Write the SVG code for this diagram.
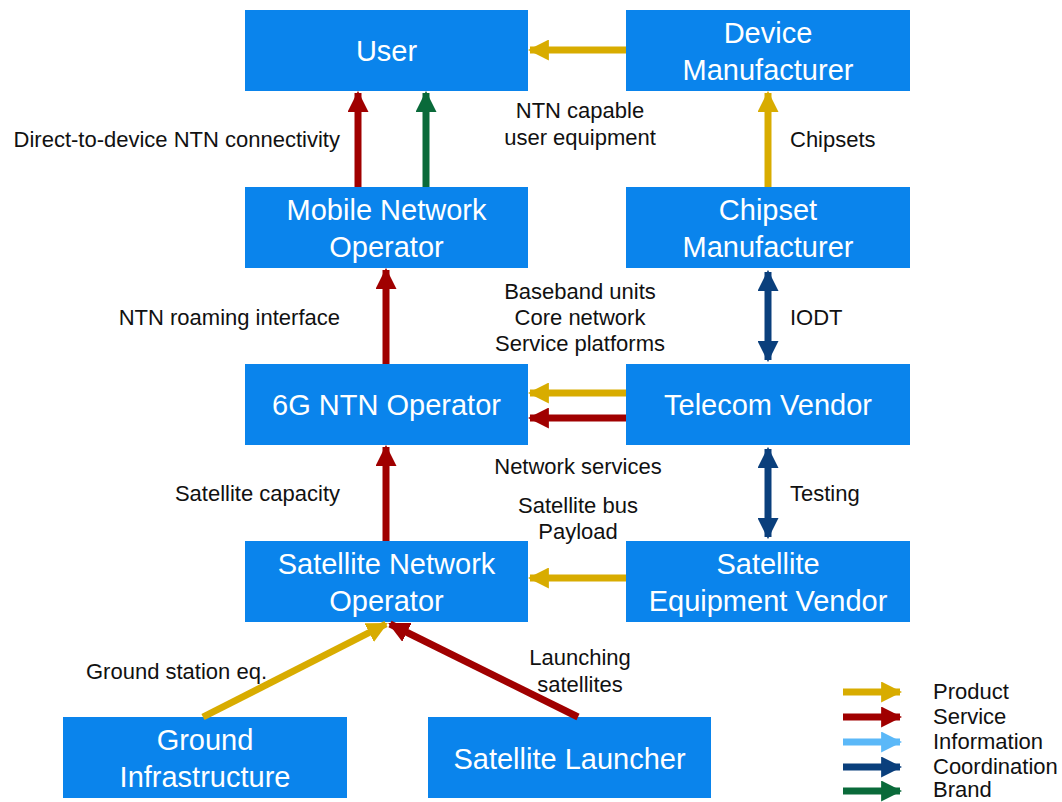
<svg xmlns="http://www.w3.org/2000/svg" width="1062" height="802" viewBox="0 0 1062 802">
<style>
.box{fill:#0A84EC}
.bt{font-family:"Liberation Sans",Arial,sans-serif;font-size:29px;fill:#fff;text-anchor:middle}
.lb{font-family:"Liberation Sans",Arial,sans-serif;font-size:22px;fill:#111}
.c{text-anchor:middle}
.e{text-anchor:end}
.p{stroke:#D8AC00;stroke-width:7;fill:none}
.s{stroke:#A00000;stroke-width:7;fill:none}
.i{stroke:#5BB8F8;stroke-width:7;fill:none}
.k{stroke:#0A3F7C;stroke-width:7;fill:none}
.b{stroke:#0A6A3A;stroke-width:7;fill:none}
</style>
<defs>
<marker id="mp" viewBox="0 0 10 10" refX="9" refY="5" markerWidth="3" markerHeight="3" orient="auto-start-reverse" markerUnits="strokeWidth"><path d="M0,0 L10,5 L0,10 z" fill="#D8AC00"/></marker>
<marker id="ms" viewBox="0 0 10 10" refX="9" refY="5" markerWidth="3" markerHeight="3" orient="auto-start-reverse" markerUnits="strokeWidth"><path d="M0,0 L10,5 L0,10 z" fill="#A00000"/></marker>
<marker id="mi" viewBox="0 0 10 10" refX="9" refY="5" markerWidth="3" markerHeight="3" orient="auto-start-reverse" markerUnits="strokeWidth"><path d="M0,0 L10,5 L0,10 z" fill="#5BB8F8"/></marker>
<marker id="mk" viewBox="0 0 10 10" refX="9" refY="5" markerWidth="3" markerHeight="3" orient="auto-start-reverse" markerUnits="strokeWidth"><path d="M0,0 L10,5 L0,10 z" fill="#0A3F7C"/></marker>
<marker id="mb" viewBox="0 0 10 10" refX="9" refY="5" markerWidth="3" markerHeight="3" orient="auto-start-reverse" markerUnits="strokeWidth"><path d="M0,0 L10,5 L0,10 z" fill="#0A6A3A"/></marker>
</defs>
<rect width="1062" height="802" fill="#fff"/>

<g id="user"><rect class="box" x="245" y="10" width="283" height="81"/><text class="bt" x="386.5" y="61">User</text></g>
<g id="device-manufacturer"><rect class="box" x="626" y="10" width="284" height="81"/><text class="bt" x="768" y="43">Device</text><text class="bt" x="768" y="80">Manufacturer</text></g>
<g id="mno"><rect class="box" x="245" y="187" width="283" height="81"/><text class="bt" x="386.5" y="220">Mobile Network</text><text class="bt" x="386.5" y="257">Operator</text></g>
<g id="chipset-manufacturer"><rect class="box" x="626" y="187" width="284" height="81"/><text class="bt" x="768" y="220">Chipset</text><text class="bt" x="768" y="257">Manufacturer</text></g>
<g id="ntn-operator"><rect class="box" x="245" y="364" width="283" height="81"/><text class="bt" x="386.5" y="415">6G NTN Operator</text></g>
<g id="telecom-vendor"><rect class="box" x="626" y="364" width="284" height="81"/><text class="bt" x="768" y="415">Telecom Vendor</text></g>
<g id="sno"><rect class="box" x="245" y="541" width="283" height="81"/><text class="bt" x="386.5" y="574">Satellite Network</text><text class="bt" x="386.5" y="611">Operator</text></g>
<g id="sev"><rect class="box" x="626" y="541" width="284" height="81"/><text class="bt" x="768" y="574">Satellite</text><text class="bt" x="768" y="611">Equipment Vendor</text></g>
<g id="ground-infrastructure"><rect class="box" x="63" y="717" width="284" height="81"/><text class="bt" x="205" y="750">Ground</text><text class="bt" x="205" y="787">Infrastructure</text></g>
<g id="satellite-launcher"><rect class="box" x="428" y="717" width="283" height="81"/><text class="bt" x="569.5" y="769">Satellite Launcher</text></g>

<g id="connectors">
<line class="s" x1="358" y1="187" x2="358" y2="93" marker-end="url(#ms)"/>
<line class="b" x1="426" y1="187" x2="426" y2="93" marker-end="url(#mb)"/>
<line class="p" x1="626" y1="50" x2="530" y2="50" marker-end="url(#mp)"/>
<line class="p" x1="768" y1="187" x2="768" y2="93" marker-end="url(#mp)"/>
<line class="s" x1="386" y1="364" x2="386" y2="270" marker-end="url(#ms)"/>
<line class="k" x1="768" y1="272" x2="768" y2="360" marker-start="url(#mk)" marker-end="url(#mk)"/>
<line class="p" x1="626" y1="393" x2="530" y2="393" marker-end="url(#mp)"/>
<line class="s" x1="626" y1="418" x2="530" y2="418" marker-end="url(#ms)"/>
<line class="k" x1="768" y1="449" x2="768" y2="537" marker-start="url(#mk)" marker-end="url(#mk)"/>
<line class="s" x1="386" y1="541" x2="386" y2="447" marker-end="url(#ms)"/>
<line class="p" x1="626" y1="578" x2="530" y2="578" marker-end="url(#mp)"/>
<line class="p" x1="203" y1="717" x2="386" y2="624" marker-end="url(#mp)"/>
<line class="s" x1="578" y1="717" x2="390" y2="624" marker-end="url(#ms)"/>
</g>

<g id="labels">
<text class="lb e" x="340" y="147">Direct-to-device NTN connectivity</text>
<text class="lb c" x="580" y="118">NTN capable</text>
<text class="lb c" x="580" y="145">user equipment</text>
<text class="lb" x="790" y="147">Chipsets</text>
<text class="lb e" x="340" y="325">NTN roaming interface</text>
<text class="lb c" x="580" y="299">Baseband units</text>
<text class="lb c" x="580" y="325">Core network</text>
<text class="lb c" x="580" y="351">Service platforms</text>
<text class="lb" x="790" y="325">IODT</text>
<text class="lb c" x="578" y="474">Network services</text>
<text class="lb e" x="340" y="501">Satellite capacity</text>
<text class="lb c" x="578" y="513">Satellite bus</text>
<text class="lb c" x="578" y="539">Payload</text>
<text class="lb" x="790" y="501">Testing</text>
<text class="lb" x="86" y="679">Ground station eq.</text>
<text class="lb c" x="580" y="665">Launching</text>
<text class="lb c" x="580" y="692">satellites</text>
</g>

<g id="legend">
<line class="p" x1="843" y1="692" x2="900" y2="692" marker-end="url(#mp)"/>
<line class="s" x1="843" y1="717" x2="900" y2="717" marker-end="url(#ms)"/>
<line class="i" x1="843" y1="742" x2="900" y2="742" marker-end="url(#mi)"/>
<line class="k" x1="843" y1="767" x2="900" y2="767" marker-end="url(#mk)"/>
<line class="b" x1="843" y1="791" x2="900" y2="791" marker-end="url(#mb)"/>
<text class="lb" x="933" y="699">Product</text>
<text class="lb" x="933" y="724">Service</text>
<text class="lb" x="933" y="749">Information</text>
<text class="lb" x="933" y="774">Coordination</text>
<text class="lb" x="933" y="797">Brand</text>
</g>
</svg>
